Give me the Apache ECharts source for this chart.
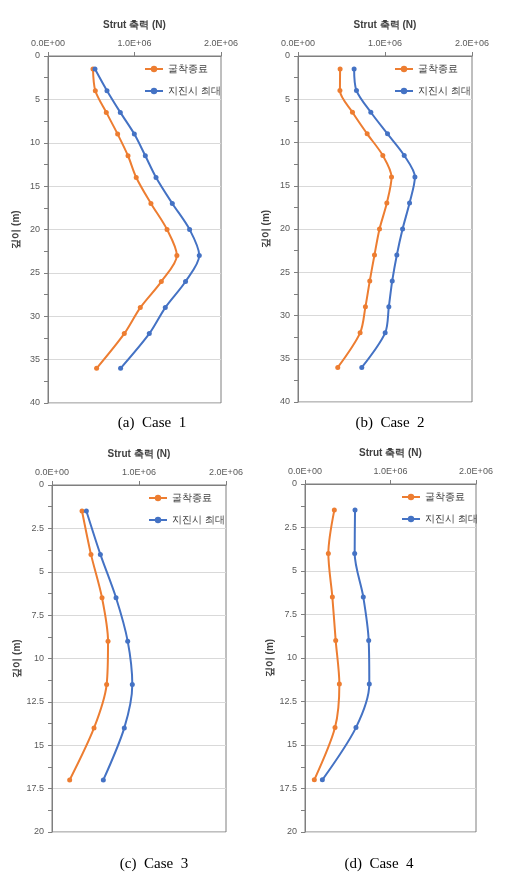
<!DOCTYPE html>
<html><head><meta charset="utf-8">
<script src="https://cdn.jsdelivr.net/npm/echarts@6/dist/echarts.min.js"></script>
<style>html,body{margin:0;padding:0;background:#fff;}#c{width:513px;height:882px;}</style>
</head><body><div id="c"></div>
<script>
// ---- data ----
const seriesNames = ['굴착종료', '지진시 최대'];
const captions = ['(a)  Case  1', '(b)  Case  2', '(c)  Case  3', '(d)  Case  4'];
const xTickValues = [0, 1000000, 2000000];
const depthLong = [1.5, 4, 6.5, 9, 11.5, 14, 17, 20, 23, 26, 29, 32, 36];
const depthShort = [1.5, 4, 6.5, 9, 11.5, 14, 17];
// Case 1 (N)
const case1Exc = [520000, 547000, 674000, 805000, 925000, 1020000, 1190000, 1376000, 1490000, 1310000, 1067000, 882000, 562000];
const case1Eq  = [543000, 682000, 836000, 998000, 1125000, 1249000, 1437000, 1637000, 1749000, 1590000, 1356000, 1171000, 839000];
// Case 2
const case2Exc = [484000, 482000, 626000, 795000, 975000, 1075000, 1021000, 937000, 879000, 825000, 775000, 714000, 457000];
const case2Eq  = [645000, 672000, 837000, 1029000, 1221000, 1344000, 1282000, 1202000, 1136000, 1083000, 1044000, 1002000, 733000];
// Case 3
const case3Exc = [345000, 448000, 575000, 644000, 628000, 483000, 203000];
const case3Eq  = [395000, 556000, 736000, 870000, 923000, 831000, 590000];
// Case 4
const case4Exc = [343000, 273000, 320000, 359000, 402000, 351000, 109000];
const case4Eq  = [585000, 581000, 682000, 745000, 752000, 596000, 203000];
const yMaxLong = 40, yIntLong = 5, yMaxShort = 20, yIntShort = 2.5;
const xAxisTitle = 'Strut 축력 (N)';
const yAxisTitle = '깊이 (m)';

// ---- layout ----
const grids = [
  {left: 48, top: 56, width: 173, height: 347},
  {left: 298, top: 56, width: 174, height: 346},
  {left: 52, top: 485, width: 174, height: 347},
  {left: 305, top: 484, width: 171, height: 348}
];
const capPos = [[147, 411], [385, 411], [149, 852], [374, 852]];
const cases = [
  {d: depthLong, a: case1Exc, b: case1Eq, max: yMaxLong, int: yIntLong},
  {d: depthLong, a: case2Exc, b: case2Eq, max: yMaxLong, int: yIntLong},
  {d: depthShort, a: case3Exc, b: case3Eq, max: yMaxShort, int: yIntShort},
  {d: depthShort, a: case4Exc, b: case4Eq, max: yMaxShort, int: yIntShort}
];
const ORANGE = '#ED7D31', BLUE = '#4472C4';
function sci(v) {
  if (v === 0) return '0.0E+00';
  const e = Math.floor(Math.log10(Math.abs(v)));
  const m = v / Math.pow(10, e);
  return m.toFixed(1) + 'E' + (e >= 0 ? '+' : '-') + String(Math.abs(e)).padStart(2, '0');
}
const font = 'Liberation Sans';
const option = {
  animation: false,
  grid: grids.map(g => Object.assign({show: true, borderColor: '#7f7f7f', borderWidth: 1, containLabel: false}, g)),
  xAxis: grids.map((g, i) => ({
    gridIndex: i, type: 'value', position: 'top', min: 0, max: 2000000, interval: 1000000,
    name: xAxisTitle, nameLocation: 'middle', nameGap: 26,
    nameTextStyle: {fontFamily: font, fontWeight: 'bold', fontSize: 10, color: '#404040'},
    axisLine: {show: true, lineStyle: {color: '#7f7f7f', width: 1}},
    axisTick: {show: true, inside: false, length: 4, lineStyle: {color: '#7f7f7f'}},
    axisLabel: {formatter: sci, fontFamily: font, fontSize: 9, color: '#595959', margin: 8},
    splitLine: {show: false}
  })),
  yAxis: cases.map((c, i) => ({
    gridIndex: i, type: 'value', inverse: true, min: 0, max: c.max, interval: c.int,
    name: yAxisTitle, nameLocation: 'middle', nameGap: 27, nameRotate: 90,
    nameTextStyle: {fontFamily: font, fontWeight: 'bold', fontSize: 10, color: '#404040'},
    axisLine: {show: true, lineStyle: {color: '#7f7f7f', width: 1}},
    axisTick: {show: true, length: 4, lineStyle: {color: '#7f7f7f'}},
    minorTick: {show: true, splitNumber: 2, length: 4, lineStyle: {color: '#7f7f7f'}},
    axisLabel: {fontFamily: font, fontSize: 9, color: '#595959', margin: 8},
    splitLine: {show: true, lineStyle: {color: '#d9d9d9', width: 1}}
  })),
  legend: grids.map((g, i) => ({
    orient: 'vertical', left: g.left + 91, top: g.top + 3, itemGap: 12,
    itemWidth: 18, itemHeight: 8,
    textStyle: {fontFamily: font, fontSize: 10, color: '#404040'},
    data: seriesNames
  })),
  title: captions.map((t, i) => ({
    text: t, left: capPos[i][0], top: capPos[i][1], textAlign: 'center',
    textStyle: {fontFamily: 'Liberation Serif', fontSize: 15, fontWeight: 'normal', color: '#000'}
  })),
  series: []
};
cases.forEach((c, i) => {
  [[c.a, seriesNames[0], ORANGE], [c.b, seriesNames[1], BLUE]].forEach(([vals, nm, col]) => {
    option.series.push({
      type: 'line', name: nm, xAxisIndex: i, yAxisIndex: i,
      data: c.d.map((d, k) => [vals[k], d]),
      smooth: 0.3, symbol: 'circle', symbolSize: 5,
      lineStyle: {color: col, width: 2}, itemStyle: {color: col}
    });
  });
});
echarts.init(document.getElementById('c'), null, {renderer: 'canvas'}).setOption(option);
</script></body></html>
